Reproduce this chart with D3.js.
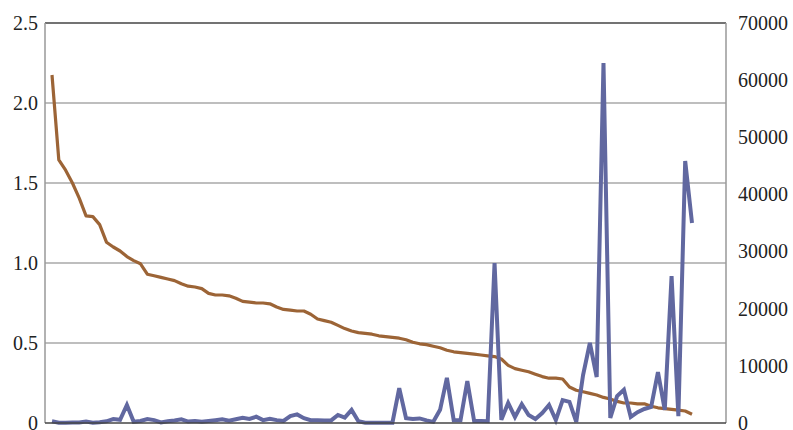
<!DOCTYPE html>
<html>
<head>
<meta charset="utf-8">
<script src="https://cdn.jsdelivr.net/npm/d3@7/dist/d3.min.js"></script>
<style>
  html, body { margin: 0; padding: 0; background: #fff; }
  svg { display: block; }
  .tick text { font-family: "Liberation Serif", "DejaVu Serif", serif; font-size: 20px; fill: #222; }
</style>
</head>
<body>
<svg id="chart" width="793" height="430"></svg>
<script>
// ---- data ----
const leftTicks = [0, 0.5, 1.0, 1.5, 2.0, 2.5];
const leftTickLabels = ["0", "0.5", "1.0", "1.5", "2.0", "2.5"];
const rightTicks = [0, 10000, 20000, 30000, 40000, 50000, 60000, 70000];
const rightTickLabels = ["0", "10000", "20000", "30000", "40000", "50000", "60000", "70000"];

// brown series (left axis)
const ratioSeries = [
  2.175, 1.645, 1.58, 1.50, 1.405, 1.295, 1.29, 1.24, 1.13, 1.10,
  1.075, 1.04, 1.015, 0.995, 0.93, 0.92, 0.91, 0.90, 0.89, 0.87,
  0.855, 0.85, 0.84, 0.81, 0.80, 0.80, 0.795, 0.78, 0.76, 0.755,
  0.75, 0.75, 0.745, 0.725, 0.71, 0.705, 0.70, 0.70, 0.68, 0.65,
  0.64, 0.63, 0.61, 0.59, 0.575, 0.565, 0.56, 0.555, 0.545, 0.54,
  0.535, 0.53, 0.52, 0.505, 0.495, 0.49, 0.48, 0.47, 0.455, 0.445,
  0.44, 0.435, 0.43, 0.425, 0.42, 0.415, 0.40, 0.36, 0.34, 0.33,
  0.32, 0.305, 0.29, 0.28, 0.28, 0.275, 0.225, 0.205, 0.195, 0.185,
  0.175, 0.16, 0.15, 0.135, 0.125, 0.125, 0.12, 0.12, 0.105, 0.095,
  0.09, 0.085, 0.08, 0.075, 0.055
];

// blue series (right axis)
const countSeries = [
  300, 50, 50, 100, 100, 250, 50, 150, 300, 700,
  550, 3150, 200, 350, 700, 500, 100, 300, 450, 650,
  250, 350, 200, 350, 500, 650, 400, 650, 900, 700,
  1100, 500, 750, 500, 350, 1200, 1500, 850, 500, 500,
  450, 450, 1400, 950, 2300, 300, 50, 50, 50, 50,
  50, 6100, 850, 700, 800, 450, 200, 2300, 7900, 500,
  500, 7350, 350, 350, 300, 28000, 550, 3500, 1050, 3300,
  1400, 700, 1750, 3150, 500, 4000, 3700, 200, 8400, 14000,
  8050, 63000, 875, 4700, 5800, 1050, 1900, 2450, 2800, 8900,
  2300, 25700, 1200, 45850, 35000
];

// ---- layout ----
const svg = d3.select("#chart");
const plot = { left: 45, right: 726, top: 23, bottom: 423 };

const x = d3.scaleLinear().domain([0, ratioSeries.length - 1]).range([52, 692]);
const yL = d3.scaleLinear().domain([0, 2.5]).range([plot.bottom, plot.top]);
const yR = d3.scaleLinear().domain([0, 70000]).range([plot.bottom, plot.top]);

// gridlines
svg.append("g")
  .selectAll("line")
  .data(leftTicks.filter(d => d > 0 && d < 2.5))
  .join("line")
  .attr("x1", plot.left).attr("x2", plot.right)
  .attr("y1", d => yL(d)).attr("y2", d => yL(d))
  .attr("stroke", "#a8a8a8").attr("stroke-width", 1.5);

// frame
svg.append("line").attr("x1", plot.left).attr("x2", plot.right)
  .attr("y1", plot.top).attr("y2", plot.top).attr("stroke", "#444").attr("stroke-width", 1.5);
svg.append("line").attr("x1", plot.left).attr("x2", plot.left)
  .attr("y1", plot.top).attr("y2", plot.bottom).attr("stroke", "#999").attr("stroke-width", 1.5);
svg.append("line").attr("x1", plot.right).attr("x2", plot.right)
  .attr("y1", plot.top).attr("y2", plot.bottom).attr("stroke", "#999").attr("stroke-width", 1.5);

// axes
const leftAxis = d3.axisLeft(yL).tickValues(leftTicks)
  .tickFormat((d, i) => leftTickLabels[i]).tickSize(0).tickPadding(7);
const gL = svg.append("g").attr("transform", `translate(${plot.left},0)`).call(leftAxis);
gL.select(".domain").remove();

const rightAxis = d3.axisRight(yR).tickValues(rightTicks)
  .tickFormat((d, i) => rightTickLabels[i]).tickSize(0).tickPadding(12);
const gR = svg.append("g").attr("transform", `translate(${plot.right},0)`).call(rightAxis);
gR.select(".domain").remove();

// lines
const lineL = d3.line().x((d, i) => x(i)).y(d => yL(d));
const lineR = d3.line().x((d, i) => x(i)).y(d => yR(d));

svg.append("path").datum(ratioSeries)
  .attr("d", lineL).attr("fill", "none")
  .attr("stroke", "#9c6436").attr("stroke-width", 3.2)
  .attr("stroke-linejoin", "round");

svg.append("path").datum(countSeries)
  .attr("d", lineR).attr("fill", "none")
  .attr("stroke", "#6168a0").attr("stroke-width", 4)
  .attr("stroke-linejoin", "miter").attr("stroke-miterlimit", 3);

// bottom axis line (drawn on top)
svg.append("line").attr("x1", plot.left).attr("x2", plot.right)
  .attr("y1", plot.bottom).attr("y2", plot.bottom).attr("stroke", "#444").attr("stroke-width", 1.5);
</script>
</body>
</html>
